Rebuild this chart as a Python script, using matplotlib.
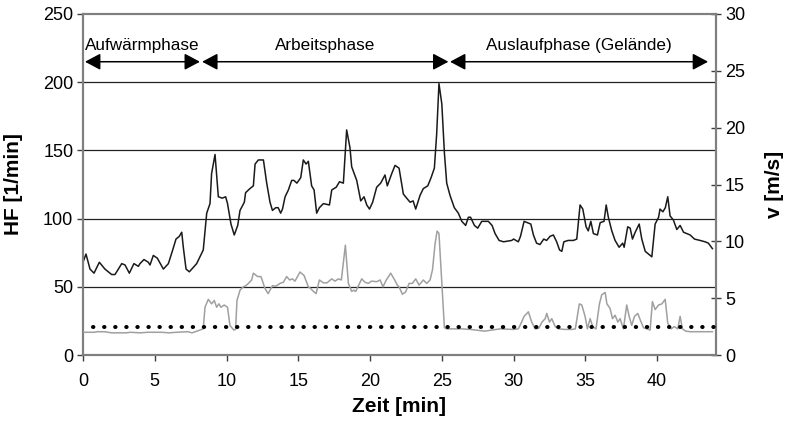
import matplotlib

matplotlib.use("Agg")
import matplotlib.pyplot as plt

plt.rcParams["font.family"] = ["Liberation Sans", "DejaVu Sans"]

# heart rate (black)
hf_time = [
    0.0, 0.21, 0.49, 0.77, 1.14, 1.53, 2.0, 2.23, 2.7, 2.93, 3.23, 3.55, 3.86,
    3.97, 4.25, 4.55, 4.67, 4.9, 5.18, 5.6, 5.95, 6.25, 6.48, 6.71, 6.88, 6.99,
    7.18, 7.41, 7.92, 8.38, 8.62, 8.85, 8.96, 9.2, 9.43, 9.7, 9.94, 10.07,
    10.31, 10.54, 10.78, 10.94, 11.24, 11.33, 11.63, 11.87, 11.99, 12.22,
    12.57, 12.8, 13.03, 13.2, 13.43, 13.6, 13.77, 13.9, 14.08, 14.31, 14.54,
    14.7, 14.9, 15.17, 15.35, 15.54, 15.7, 15.93, 16.1, 16.28, 16.47, 16.75,
    17.17, 17.33, 17.64, 17.87, 18.14, 18.37, 18.6, 18.72, 19.07, 19.35,
    19.58, 19.77, 19.96, 20.18, 20.46, 20.74, 21.04, 21.2, 21.51, 21.74,
    22.02, 22.32, 22.55, 22.79, 23.0, 23.18, 23.48, 23.71, 24.02, 24.25,
    24.48, 24.64, 24.8, 25.0, 25.18, 25.34, 25.57, 25.87, 26.15, 26.39,
    26.66, 26.85, 27.0, 27.27, 27.5, 27.78, 28.24, 28.5, 28.71, 28.99, 29.3,
    29.87, 30.0, 30.33, 30.48, 30.73, 30.96, 31.2, 31.38, 31.6, 31.84, 32.1,
    32.3, 32.54, 32.77, 33.0, 33.2, 33.36, 33.5, 33.8, 34.17, 34.4, 34.63,
    34.82, 35.05, 35.2, 35.38, 35.56, 35.84, 36.03, 36.3, 36.45, 36.6, 36.84,
    37.07, 37.35, 37.6, 37.7, 37.95, 38.12, 38.28, 38.47, 38.75, 38.93,
    39.17, 39.4, 39.63, 39.86, 40.1, 40.2, 40.4, 40.57, 40.74, 40.9, 41.13,
    41.37, 41.6, 41.84, 42.07, 42.3, 42.6, 42.99, 43.34, 43.57, 43.85,
]
hf_values = [
    68, 74, 63, 60, 68, 63, 59, 59, 67, 66, 60, 67, 65,
    67, 70, 68, 66, 73, 71, 63, 67, 77, 85, 87, 90, 79,
    63, 61, 67, 77, 104, 111, 133, 147, 116, 115, 116, 111,
    96, 88, 95, 106, 112, 119, 122, 124, 140, 143,
    143, 126, 112, 106, 108, 108, 104, 107, 116, 121, 128,
    128, 126, 130, 143, 140, 142, 124, 121, 104, 108, 111,
    110, 121, 123, 127, 126, 165, 152, 138, 128, 113,
    116, 110, 107, 112, 123, 126, 132, 124, 133, 139,
    137, 118, 115, 112, 113, 107, 117, 122, 124, 130,
    137, 162, 199, 184, 148, 126, 117, 108, 104, 98,
    95, 101, 101, 95, 93, 98, 98, 95, 89, 84, 83,
    84, 85, 83, 87, 98, 97, 96, 88, 82, 81, 85,
    84, 87, 88, 83, 77, 76, 83, 84, 84, 85, 110,
    107, 94, 91, 98, 89, 88, 97, 98, 110, 101, 91,
    84, 79, 82, 79, 94, 93, 85, 90, 96, 85,
    76, 74, 72, 96, 101, 107, 105, 108, 116, 102, 99,
    92, 95, 90, 89, 88, 85, 84, 83, 82, 78,
]

# speed (grey), right axis
v_time = [
    0.0, 0.8, 1.0, 1.5, 2.0, 3.0, 3.3, 4.0, 4.5, 5.5, 6.0, 6.5, 7.3, 7.6,
    8.15, 8.38, 8.5, 8.73, 8.96, 9.15, 9.31, 9.47, 9.61, 9.84, 10.07, 10.24,
    10.5, 10.63, 10.73, 10.94, 11.17, 11.35, 11.52, 11.75, 11.87, 12.17,
    12.4, 12.68, 12.9, 13.2, 13.43, 13.73, 13.96, 14.19, 14.4, 14.59, 14.77,
    15.12, 15.4, 15.7, 15.86, 16.05, 16.24, 16.47, 16.75, 17.0, 17.33, 17.55,
    17.8, 18.0, 18.28, 18.49, 18.72, 18.85, 19.0, 19.42, 19.65, 19.88, 20.1,
    20.46, 20.7, 20.9, 21.13, 21.44, 21.67, 21.9, 22.02, 22.25, 22.48, 22.72,
    22.95, 23.18, 23.41, 23.71, 23.95, 24.18, 24.35, 24.53, 24.67, 24.8,
    25.0, 25.18, 25.34, 26.4, 27.0, 28.0, 28.5, 29.06, 29.98, 30.33, 30.56,
    30.73, 31.03, 31.26, 31.5, 31.75, 31.98, 32.2, 32.31, 32.5, 32.66, 32.9,
    33.13, 33.59, 34.05, 34.3, 34.58, 34.75, 34.98, 35.14, 35.33, 35.51,
    35.74, 35.98, 36.14, 36.38, 36.5, 36.72, 36.89, 37.07, 37.26, 37.42,
    37.65, 37.88, 38.05, 38.23, 38.42, 38.65, 38.82, 39.05, 39.28, 39.51,
    39.67, 39.86, 40.1, 40.33, 40.56, 40.74, 40.97, 41.2, 41.44, 41.6, 41.76,
    41.99, 42.3, 43.85,
]
v_values = [
    2.0, 2.0, 2.05, 2.05, 1.95, 1.95, 2.0, 1.95, 2.0, 2.0, 1.95, 2.0, 2.05, 1.95,
    2.2, 2.3, 4.2, 4.9, 4.5, 4.8, 4.2, 4.5, 4.2, 4.4, 4.2, 2.6,
    2.2, 2.25, 4.8, 5.7, 6.0, 6.1, 6.3, 6.6, 7.2, 6.9,
    6.9, 5.85, 5.4, 6.1, 6.05, 6.3, 6.4, 6.9, 6.6, 6.7, 6.5,
    7.3, 7.0, 6.0, 5.85, 5.6, 5.4, 6.6, 6.35, 6.35, 6.7, 6.5,
    6.7, 6.6, 9.66, 6.3, 5.6, 5.7, 5.6, 6.7, 6.4, 6.3, 6.5,
    6.45, 6.6, 6.0, 6.6, 7.2, 6.7, 6.15, 6.0, 5.35, 5.55, 6.3,
    6.3, 6.7, 6.15, 6.6, 6.3, 6.6, 7.5, 9.8, 10.9, 10.7,
    6.3, 2.4, 2.3, 2.3, 2.25, 2.1, 2.2, 2.3, 2.25, 2.3, 2.9,
    3.4, 3.8, 2.9, 2.3, 2.35, 2.9, 3.2, 3.66, 2.9, 3.2, 2.5,
    2.3, 2.25, 2.25, 2.3, 4.5, 4.4, 3.4, 2.3, 3.2, 2.5,
    2.3, 4.5, 5.3, 5.5, 4.5, 4.1, 3.2, 3.5, 2.9, 3.2,
    2.3, 4.4, 3.4, 2.6, 3.4, 3.66, 3.1, 2.4, 2.3, 2.2,
    4.7, 4.0, 4.4, 4.5, 4.9, 2.8, 2.3, 2.5, 2.3, 3.4, 2.3,
    2.1, 2.05, 2.05,
]

v_threshold = 2.5
threshold_span = [0.72, 44.1]

phase_names = ["Aufwärmphase", "Arbeitsphase", "Auslaufphase (Gelände)"]
phase_starts = [0.14, 8.3, 25.57]
phase_ends = [8.15, 25.46, 43.55]

fig = plt.figure(figsize=(7.85, 4.24), dpi=100)
ax = fig.add_axes([0.1057, 0.1627, 0.8064, 0.8043])
ax2 = ax.twinx()

ax.set_xlim(0, 44.1)
ax.set_ylim(0, 250)
ax2.set_ylim(0, 30)
ax.set_xticks(range(0, 45, 5))
ax.set_yticks(range(0, 251, 50))
ax2.set_yticks(range(0, 31, 5))

for y in [50, 100, 150, 200]:
    ax.axhline(y, color="#222222", lw=0.9, zorder=1)

ax.plot(hf_time, hf_values, color="#1a1a1a", lw=1.1, zorder=3)
ax2.plot(v_time, v_values, color="#a0a0a0", lw=1.1, zorder=3)
ax2.plot(threshold_span, [v_threshold, v_threshold], color="black", lw=2.9,
         linestyle=(0, (0.1, 2.65)), dash_capstyle="round", zorder=4)

for name, start, end in zip(phase_names, phase_starts, phase_ends):
    ax.annotate("", xy=(end, 215), xytext=(start, 215),
                arrowprops=dict(arrowstyle="<|-|>,head_length=0.47,head_width=0.25",
                                color="black", lw=1.1, mutation_scale=20,
                                shrinkA=0, shrinkB=0))
    ax.text((start + end) / 2, 227, name, ha="center", va="center", fontsize=12.3)

for a in (ax, ax2):
    for s in a.spines.values():
        s.set_color("#7f7f7f")
        s.set_linewidth(1.5)

ax.tick_params(axis="y", direction="out", length=4, width=1, color="#404040",
               labelsize=13, pad=3)
ax.tick_params(axis="x", direction="out", length=4, width=1, color="#404040",
               labelsize=13, pad=9)
ax2.tick_params(axis="y", direction="inout", length=7, width=1, color="#404040",
                labelsize=13, pad=3)

ax.set_xlabel("Zeit [min]", fontsize=15, fontweight="bold")
ax.set_ylabel("HF [1/min]", fontsize=15, fontweight="bold")
ax2.set_ylabel("v [m/s]", fontsize=15, fontweight="bold", rotation=90)
ax.xaxis.set_label_coords(0.5, -0.122)
ax.yaxis.set_label_coords(-0.094, 0.5)
ax2.yaxis.set_label_coords(1.078, 0.5)

fig.savefig("out.png", dpi=100)
